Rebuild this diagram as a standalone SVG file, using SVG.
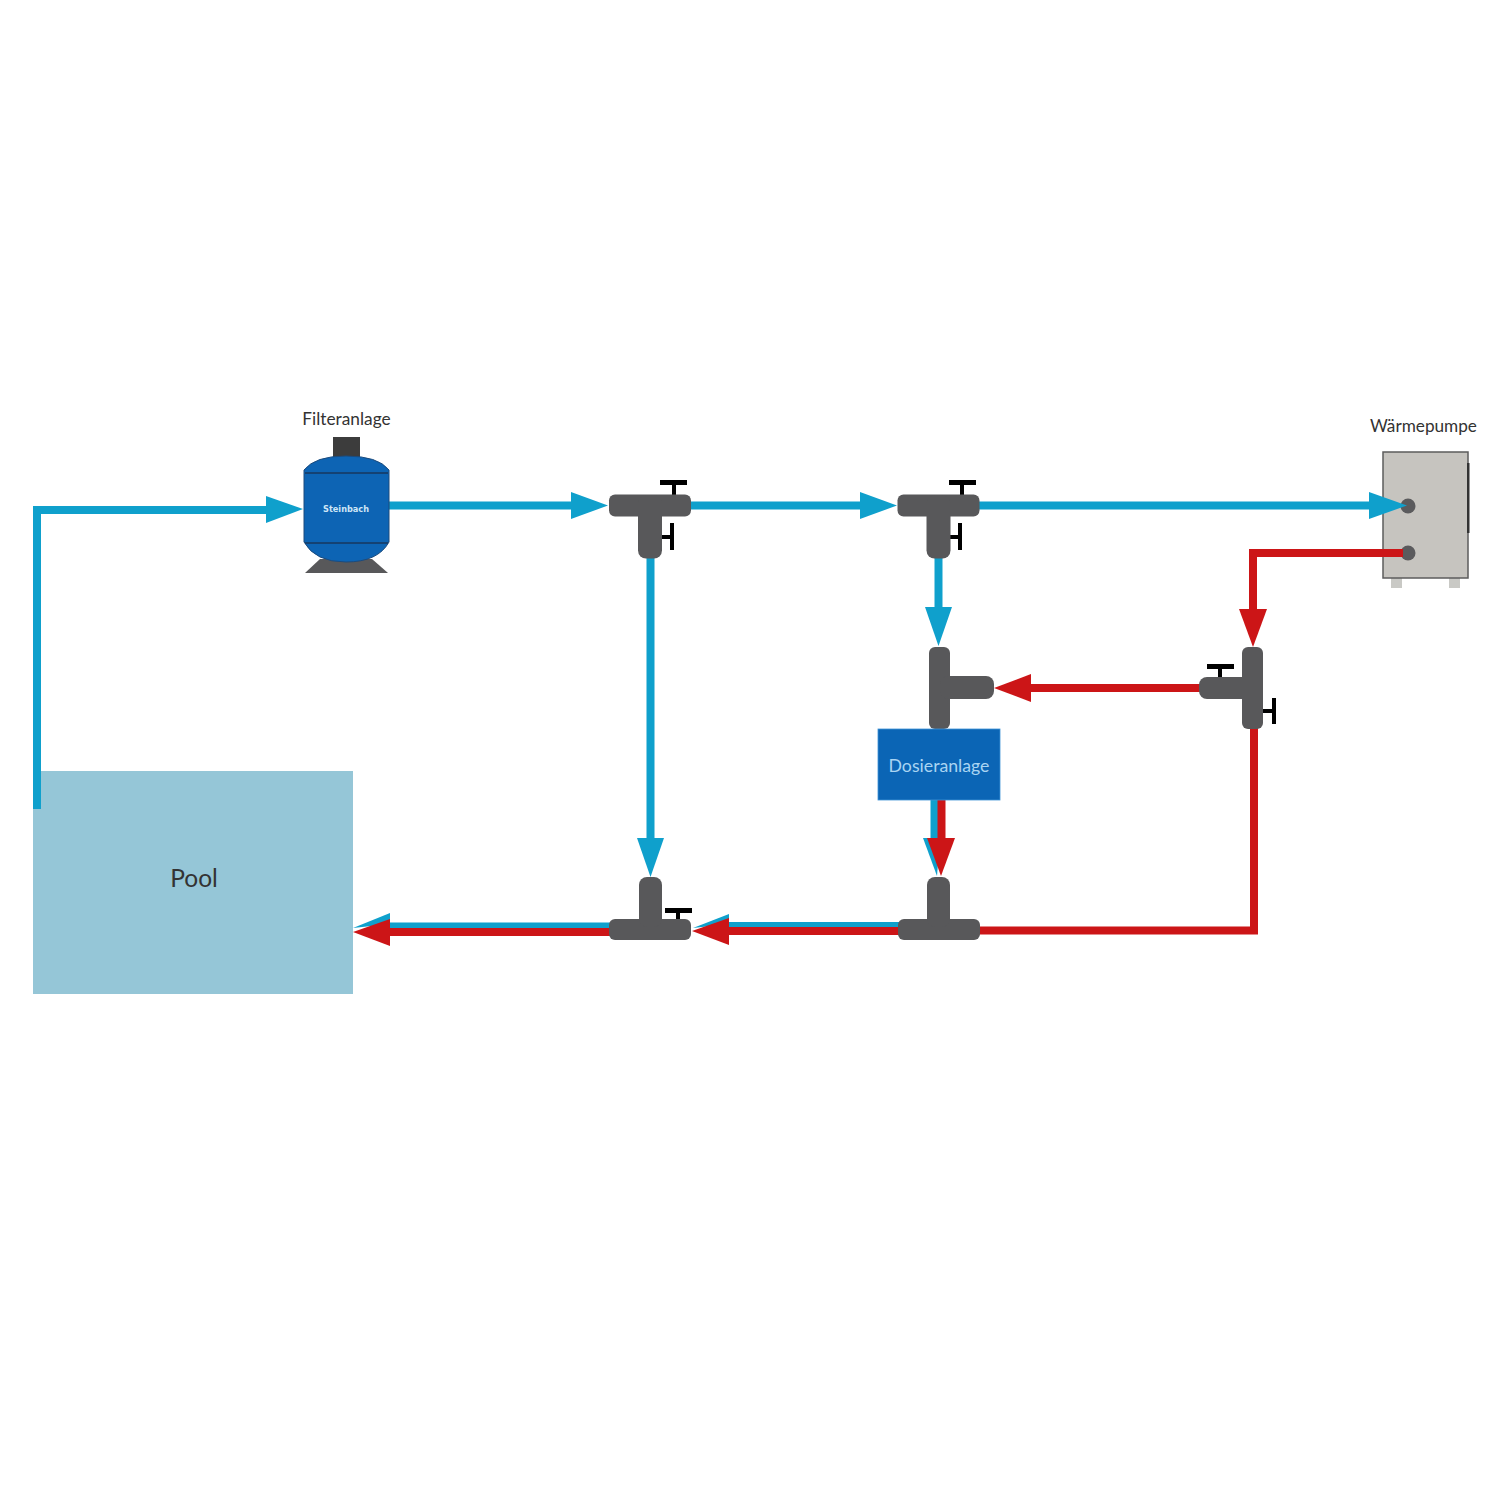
<svg xmlns="http://www.w3.org/2000/svg" width="1500" height="1500" viewBox="0 0 1500 1500">
<defs><style>
.lbl{font-family:Lato,"Liberation Sans",sans-serif;fill:#333333}
.tee{fill:#58585a}
.h{fill:#000}
.b{fill:none;stroke:#0fa0cc;stroke-width:8}
.r{fill:none;stroke:#cc1517;stroke-width:8}
.ba{fill:#0fa0cc}.ra{fill:#cc1517}
</style>
<g id="tee-h"><rect x="-41" y="-11" width="82" height="22" rx="6" class="tee"/><rect x="-12" y="-10" width="24" height="63" rx="8" class="tee"/></g>
</defs>
<rect width="1500" height="1500" fill="#fff"/>
<g id="pool"><rect x="33" y="771" width="320" height="223" fill="#95c6d7"/><text x="194" y="887" text-anchor="middle" font-size="24.500" class="lbl">Pool</text></g>
<g id="connectors">
<path class="b" d="M37 809V510H270"/><path class="ba" d="M303 509L266 496V523Z"/>
<path class="b" d="M389 505.500H575"/><path class="ba" d="M608 505.500L571 492V519Z"/>
<path class="b" d="M690 505.500H864"/><path class="ba" d="M897 505.500L860 492V519Z"/>
<path class="b" d="M979 505.500H1375"/>
<path class="b" d="M650.500 555V842"/><path class="ba" d="M650.500 877L637 838H664Z"/>
<path class="b" d="M938.500 555V612"/><path class="ba" d="M938.500 646L925 607H952Z"/>
<path class="r" d="M1405 553H1253V614"/><path class="ra" d="M1253 647L1239 609H1267Z"/>
<path class="r" d="M1200 688H1027"/><path class="ra" d="M994 688L1031 674V702Z"/>
<path class="r" d="M1254 725V930.500H975"/>
<path class="b" d="M934.500 800V842"/><path class="ba" d="M937 876L923 838H940Z"/>
<path class="r" d="M941.500 800V842"/><path class="ra" d="M941 876L927 838H955Z"/>
<path class="b" d="M900 926H725"/><path class="ba" d="M693 928L729 914V924Z"/>
<path class="r" d="M900 931H725"/><path class="ra" d="M692 931L729 918V945Z"/>
<path class="b" d="M612 926.500H385"/><path class="ba" d="M353 928L390 913V924Z"/>
<path class="r" d="M612 932H385"/><path class="ra" d="M353 932L390 919V946Z"/>
</g>
<g id="filter">
<text x="346.500" y="425" text-anchor="middle" font-size="17.300" class="lbl">Filteranlage</text>
<rect x="333" y="437" width="27" height="20" fill="#3c3c3c"/>
<path d="M305 573L320 559H372L388 573Z" fill="#58585a"/>
<path d="M304 470Q315 456 346 456Q378 456 389 470V542Q378 562 346 562Q315 562 304 542Z" fill="#0d64b4" stroke="#1c4b7d" stroke-width="1"/>
<path d="M305 473H388M305 543H388" stroke="#17375e" stroke-width="1.500"/>
<text x="346" y="512" text-anchor="middle" font-size="9" font-weight="700" fill="#cfe6f7" font-family="'DejaVu Sans',sans-serif" textLength="46" lengthAdjust="spacingAndGlyphs">Steinbach</text>
</g>
<g id="valve-1"><rect x="672" y="481" width="4" height="14" class="h"/><rect x="660" y="480" width="27" height="5" class="h"/><rect x="662" y="535" width="12" height="4" class="h"/><rect x="670" y="523" width="4" height="27" class="h"/><use href="#tee-h" x="650" y="505.500"/></g>
<g id="valve-2"><rect x="960" y="481" width="4" height="14" class="h"/><rect x="949" y="480" width="27" height="5" class="h"/><rect x="950" y="535" width="12" height="4" class="h"/><rect x="958" y="523" width="4" height="27" class="h"/><use href="#tee-h" x="938.500" y="505.500"/></g>
<g id="heat-pump">
<text x="1423.500" y="432" text-anchor="middle" font-size="17.200" class="lbl">Wärmepumpe</text>
<rect x="1391" y="578" width="11" height="10" fill="#c9c9c5"/><rect x="1449" y="578" width="11" height="10" fill="#c9c9c5"/>
<rect x="1383" y="452" width="85" height="126" fill="#c6c4bf" stroke="#5c5c5c" stroke-width="1.500"/>
<rect x="1467" y="463" width="2.500" height="70" fill="#333"/>
<circle cx="1408" cy="506" r="7.500" fill="#5b5b5d"/><circle cx="1408" cy="553" r="7.500" fill="#5b5b5d"/>
<path class="b" d="M1370 505.500H1380"/><path class="ba" d="M1407 505.500L1369 492V519Z"/>
<path class="r" d="M1375 553H1403"/>
</g>
<g id="tee-dosing"><rect x="929" y="647" width="21" height="82" rx="6" class="tee"/><rect x="940" y="676" width="54" height="23" rx="8" class="tee"/></g>
<g id="valve-3"><rect x="1218" y="666" width="4" height="14" class="h"/><rect x="1207" y="664" width="27" height="5" class="h"/><rect x="1262" y="709" width="12" height="4" class="h"/><rect x="1272" y="698" width="4" height="26" class="h"/><rect x="1199" y="677" width="54" height="22" rx="8" class="tee"/><rect x="1242" y="647" width="21" height="82" rx="6" class="tee"/></g>
<g id="dosing"><rect x="878" y="729" width="122" height="71" fill="#0b65b5" stroke="#3f93d8" stroke-width="0.800"/><text x="939" y="772" text-anchor="middle" font-size="17.700" class="lbl" style="fill:#a9d4f2">Dosieranlage</text></g>
<g id="tee-bottom-2"><rect x="898" y="919" width="82" height="21" rx="6" class="tee"/><rect x="927" y="877" width="23" height="50" rx="8" class="tee"/></g>
<g id="valve-4"><rect x="676" y="912" width="4" height="10" class="h"/><rect x="665" y="908" width="27" height="5" class="h"/><rect x="609" y="919" width="82" height="21" rx="6" class="tee"/><rect x="639" y="877" width="23" height="50" rx="8" class="tee"/></g>
</svg>
